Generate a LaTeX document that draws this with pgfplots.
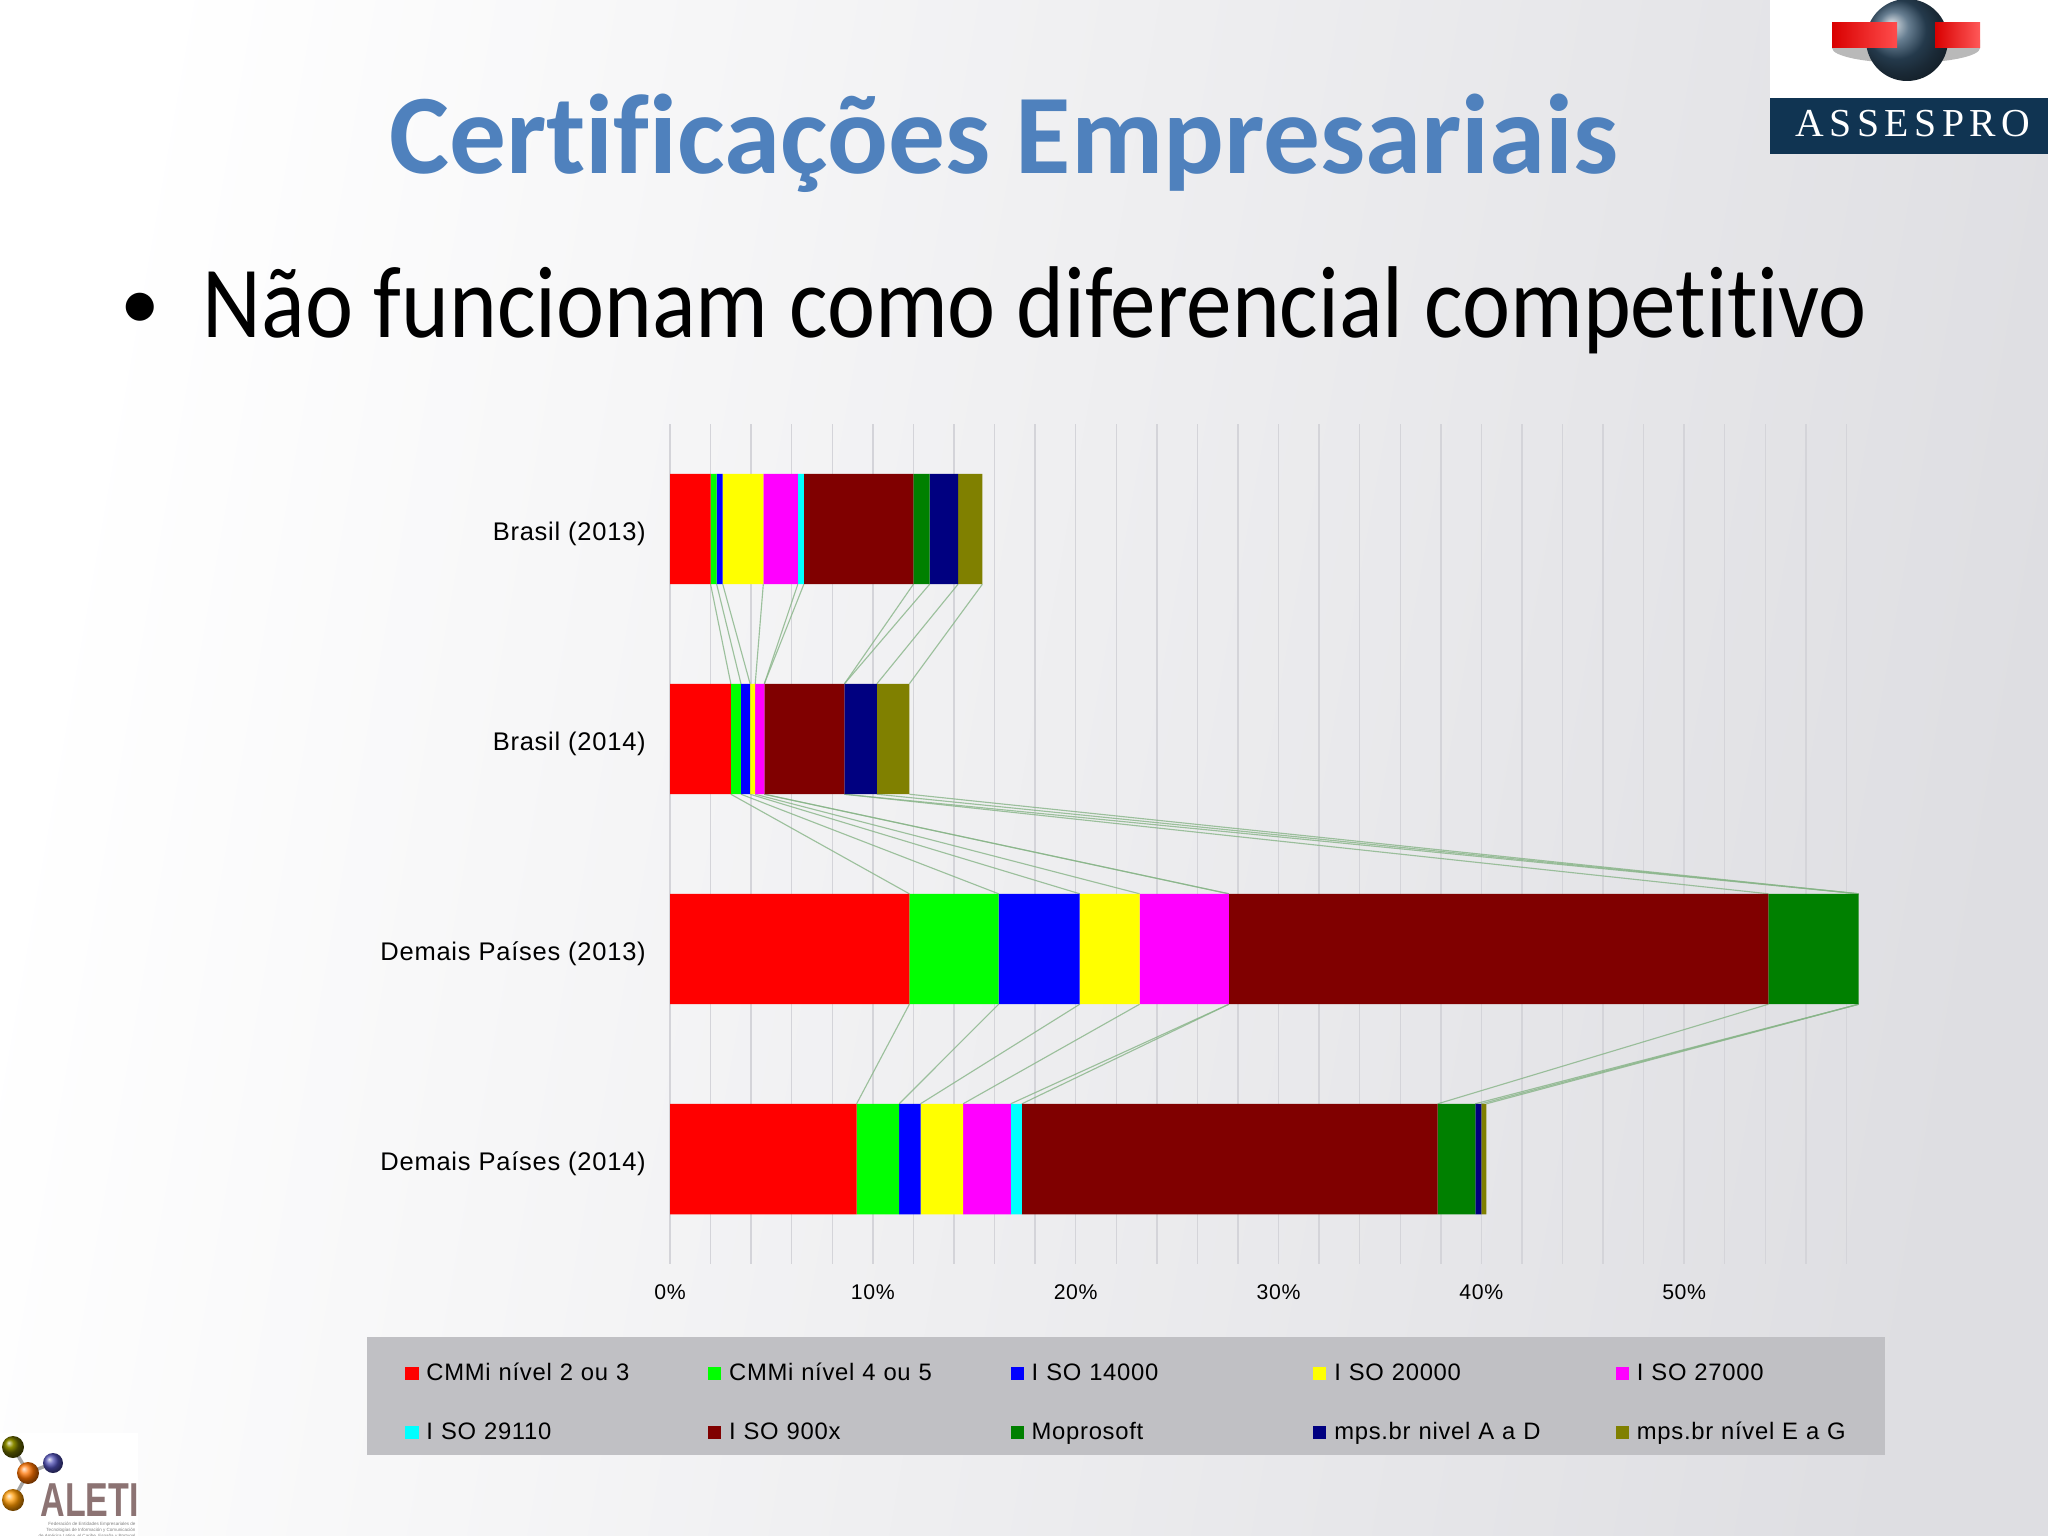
\documentclass[border=0pt]{standalone}
\usepackage{fontspec}
\setmainfont{Carlito}[Ligatures=NoCommon]
\newfontfamily\arialsp[LetterSpace=3]{Liberation Sans}
\newfontfamily\logoserif[LetterSpace=14]{Liberation Serif}
\newfontfamily\aletifont{Liberation Sans}
\usepackage{pgfplots}
\pgfplotsset{compat=1.18}
\usepackage{pgfplotstable}

\definecolor{titleblue}{RGB}{79,129,189}
\definecolor{bggray}{RGB}{222,222,226}
\definecolor{gridgray}{RGB}{212,212,217}
\definecolor{legendgray}{RGB}{192,192,196}
\definecolor{seriesline}{RGB}{135,180,135}
\definecolor{logonavy}{RGB}{16,52,82}
\definecolor{cRed}{RGB}{255,0,0}
\definecolor{cLime}{RGB}{0,255,0}
\definecolor{cBlue}{RGB}{0,0,255}
\definecolor{cYellow}{RGB}{255,255,0}
\definecolor{cMagenta}{RGB}{255,0,255}
\definecolor{cCyan}{RGB}{0,255,255}
\definecolor{cMaroon}{RGB}{128,0,0}
\definecolor{cGreen}{RGB}{0,128,0}
\definecolor{cNavy}{RGB}{0,0,128}
\definecolor{cOlive}{RGB}{128,128,0}

% share of companies with each certification (%), one row per bar
\pgfplotstableread{
cat cmmiA cmmiB iso14 iso20 iso27 iso29 iso9 mopro mpsAD mpsEG
0   2.0   0.3   0.3   2.0   1.7   0.3   5.4  0.8   1.4   1.2
1   3.0   0.5   0.45  0.25  0.45  0     3.95 0     1.6   1.6
2   11.8  4.4   4.0   2.95  4.4   0     26.6 4.45  0     0
3   9.2   2.1   1.05  2.1   2.35  0.55  20.5 1.85  0.3   0.25
}\certs

\pgfplotsset{
  chartbox/.style={
    at={(axSW)}, anchor=south west, scale only axis,
    width=417.87bp, height=295.31bp,
    xmin=0, xmax=58.6, ymin=-0.5, ymax=3.5, y dir=reverse,
    axis line style={draw=none}, major tick length=0pt,
  },
  sl/.style={seriesline, line width=0.4bp, opacity=0.8, forget plot, unbounded coords=jump},
}

\begin{document}
\begin{tikzpicture}
\begin{scope}[x=0.3515625bp, y=-0.3515625bp]
  % slide background
  \shade[left color=white, right color=bggray, shading angle=80] (0,0) rectangle (2048,1536);
  % title and bullet
  \node[anchor=base, font=\bfseries\fontsize{40}{48}\selectfont, text=titleblue, inner sep=0pt]
    at (1004,174) {Certificações Empresariais};
  \node[anchor=base, font=\fontsize{28}{34}\selectfont, inner sep=0pt] at (140,330) {•};
  \node[anchor=base west, font=\fontsize{36}{43}\selectfont, inner sep=0pt]
    at (202,337) {\scalebox{0.893}[1]{Não funcionam como diferencial competitivo}};
  % ASSESPRO logo
  \fill[white] (1770,0) rectangle (2048,154);
  \fill[logonavy] (1770,98) rectangle (2048,154);
  \node[text=white, font=\logoserif\fontsize{14}{14}\selectfont, anchor=base, inner sep=0pt]
    at (1913,137) {ASSESPRO};
  \fill[gray!55] (1832,40) -- (1832,48) arc[start angle=180, end angle=0, x radius=74, y radius=15] -- (1980,40) -- cycle;
  \shade[ball color=logonavy!85] (1907,40) circle[radius=41];
  \shade[left color=red!85!black, right color=red!70] (1832,23) rectangle (1897,48);
  \shade[left color=red!85!black, right color=red!65] (1935,23) rectangle (1980,48);
  % ALETI logo
  \fill[white] (0,1433) rectangle (138,1536);
  \draw[gray!70, line width=1.2] (13,1447) -- (28,1473) -- (53,1463);
  \draw[gray!70, line width=1.2] (28,1473) -- (13,1500);
  \shade[ball color=olive!80!black] (13,1447) circle[radius=11];
  \shade[ball color=blue!40!gray] (53,1463) circle[radius=10];
  \shade[ball color=orange!90!red] (28,1473) circle[radius=11];
  \shade[ball color=orange!80!yellow] (13,1500) circle[radius=11];
  \node[anchor=base west, inner sep=0pt, text=gray!90!red, font=\aletifont\bfseries\fontsize{12}{12}\selectfont]
    at (40,1516) {\scalebox{1}[1.4]{ALETI}};
  \node[anchor=north east, inner sep=0pt, text=gray, align=right, font=\aletifont\fontsize{1.6}{2}\selectfont]
    at (136,1522) {Federación de Entidades Empresariales de\\Tecnologías de Información y Comunicación\\de América Latina, el Caribe, España y Portugal};
  % legend panel
  \fill[legendgray] (367,1337) rectangle (1885,1455);
  \coordinate (axSW) at (670,1264);
\end{scope}

% grid and series lines, below the bars
\begin{axis}[chartbox,
  xtick={0,2,...,58}, xticklabels={}, ytick=\empty,
  xmajorgrids, grid style={gridgray, line width=0.5bp}]
\addplot[sl] coordinates {(2.0,0.263) (3.0,0.737) (3.0,nan) (3.0,1.263) (11.8,1.737) (11.8,nan) (11.8,2.263) (9.2,2.737)};
\addplot[sl] coordinates {(2.3,0.263) (3.5,0.737) (3.5,nan) (3.5,1.263) (16.2,1.737) (16.2,nan) (16.2,2.263) (11.3,2.737)};
\addplot[sl] coordinates {(2.6,0.263) (3.95,0.737) (3.95,nan) (3.95,1.263) (20.2,1.737) (20.2,nan) (20.2,2.263) (12.35,2.737)};
\addplot[sl] coordinates {(4.6,0.263) (4.2,0.737) (4.2,nan) (4.2,1.263) (23.15,1.737) (23.15,nan) (23.15,2.263) (14.45,2.737)};
\addplot[sl] coordinates {(6.3,0.263) (4.65,0.737) (4.65,nan) (4.65,1.263) (27.55,1.737) (27.55,nan) (27.55,2.263) (16.8,2.737)};
\addplot[sl] coordinates {(6.6,0.263) (4.65,0.737) (4.65,nan) (4.65,1.263) (27.55,1.737) (27.55,nan) (27.55,2.263) (17.35,2.737)};
\addplot[sl] coordinates {(12.0,0.263) (8.6,0.737) (8.6,nan) (8.6,1.263) (54.15,1.737) (54.15,nan) (54.15,2.263) (37.85,2.737)};
\addplot[sl] coordinates {(12.8,0.263) (8.6,0.737) (8.6,nan) (8.6,1.263) (58.6,1.737) (58.6,nan) (58.6,2.263) (39.7,2.737)};
\addplot[sl] coordinates {(14.2,0.263) (10.2,0.737) (10.2,nan) (10.2,1.263) (58.6,1.737) (58.6,nan) (58.6,2.263) (40.0,2.737)};
\addplot[sl] coordinates {(15.4,0.263) (11.8,0.737) (11.8,nan) (11.8,1.263) (58.6,1.737) (58.6,nan) (58.6,2.263) (40.25,2.737)};
\end{axis}

% stacked bars
\begin{axis}[chartbox,
  xbar stacked, bar width=0.526,
  xtick={0,10,...,50}, xticklabels={0\%,10\%,20\%,30\%,40\%,50\%},
  xticklabel style={font=\arialsp\fontsize{7.5}{9}\selectfont, yshift=-3.8bp},
  ytick={0,1,2,3},
  yticklabels={Brasil (2013),Brasil (2014),Demais Países (2013),Demais Países (2014)},
  yticklabel style={font=\arialsp\fontsize{9}{10}\selectfont, xshift=-5bp, yshift=-1.6bp},
  legend cell align=left,
  legend columns=5,
  legend image code/.code={\fill[#1,draw=none] (0pt,-2.3pt) rectangle (4.6pt,2.3pt);},
  legend style={at={(-0.2230,-0.1140)}, anchor=north west, draw=none, fill=none,
    inner sep=0pt, row sep=12bp,
    font=\arialsp\fontsize{8.4}{10}\selectfont,
    /tikz/every odd column/.append style={column sep=2.8bp},
    nodes={inner sep=0pt, text width=99bp, text height=7pt, text depth=2pt, align=left}},
  every axis plot/.append style={draw=none},
]
\addplot[fill=cRed] table[x=cmmiA, y=cat] {\certs};
\addplot[fill=cLime] table[x=cmmiB, y=cat] {\certs};
\addplot[fill=cBlue] table[x=iso14, y=cat] {\certs};
\addplot[fill=cYellow] table[x=iso20, y=cat] {\certs};
\addplot[fill=cMagenta] table[x=iso27, y=cat] {\certs};
\addplot[fill=cCyan] table[x=iso29, y=cat] {\certs};
\addplot[fill=cMaroon] table[x=iso9, y=cat] {\certs};
\addplot[fill=cGreen] table[x=mopro, y=cat] {\certs};
\addplot[fill=cNavy] table[x=mpsAD, y=cat] {\certs};
\addplot[fill=cOlive] table[x=mpsEG, y=cat] {\certs};
\legend{CMMi nível 2 ou 3, CMMi nível 4 ou 5, I SO 14000, I SO 20000, I SO 27000,
  I SO 29110, I SO 900x, Moprosoft, mps.br nivel A a D, mps.br nível E a G}
\end{axis}

\begin{scope}[x=0.3515625bp, y=-0.3515625bp]
  \pgfresetboundingbox
  \path (0,0) rectangle (2048,1536);
\end{scope}
\end{tikzpicture}
\end{document}
